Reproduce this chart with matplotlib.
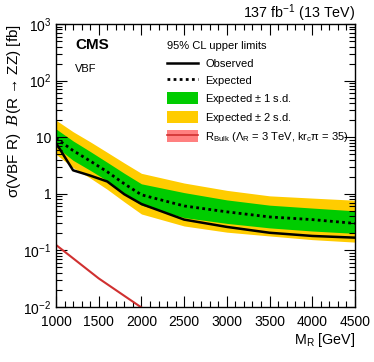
import matplotlib
matplotlib.use("Agg")
import matplotlib.pyplot as plt
from matplotlib.patches import Patch
from matplotlib.lines import Line2D
from matplotlib.ticker import MultipleLocator, LogLocator, NullFormatter

plt.rcParams['font.family'] = ['Liberation Sans', 'DejaVu Sans']
plt.rcParams['mathtext.fontset'] = 'custom'
plt.rcParams['mathtext.rm'] = 'Liberation Sans'
plt.rcParams['mathtext.it'] = 'Liberation Sans:italic'
plt.rcParams['mathtext.cal'] = 'DejaVu Serif:italic'

mass = [1000, 1200, 1400, 1600, 1800, 2000, 2500, 3000, 3500, 4000, 4500]
observed = [7.9, 2.6, 2.1, 1.65, 0.98, 0.66, 0.35, 0.26, 0.205, 0.18, 0.168]
expected = [9.6, 5.8, 3.8, 2.45, 1.5, 0.96, 0.61, 0.48, 0.39, 0.35, 0.30]
band2_hi = [20, 12.5, 8.3, 5.4, 3.5, 2.3, 1.55, 1.15, 0.92, 0.84, 0.77]
band1_hi = [14, 8.6, 5.6, 3.6, 2.3, 1.5, 1.05, 0.78, 0.63, 0.56, 0.50]
band1_lo = [6.8, 3.9, 2.6, 1.7, 1.0, 0.63, 0.38, 0.30, 0.25, 0.22, 0.20]
band2_lo = [5.0, 2.9, 1.9, 1.2, 0.72, 0.44, 0.27, 0.21, 0.18, 0.155, 0.14]

theory_mass = [1000, 1500, 2000, 2500]
theory_xs = [0.125, 0.032, 0.0098, 0.0035]

green = '#00cc00'
yellow = '#ffcc00'
red = '#d03030'

fig = plt.figure(figsize=(3.74, 3.62), dpi=100)
ax = fig.add_axes([56/374, 1-307/362, 299/374, 283/362])

ax.fill_between(mass, band2_lo, band2_hi, color=yellow, lw=0)
ax.fill_between(mass, band1_lo, band1_hi, color=green, lw=0)
ax.plot(mass, expected, color='black', ls=(0, (1, 1.2)), lw=2.0)
ax.plot(mass, observed, color='black', lw=1.8)
ax.plot(theory_mass, theory_xs, color=red, lw=1.5)

ax.set_yscale('log')
ax.set_xlim(1000, 4500)
ax.set_ylim(1e-2, 1e3)
ax.xaxis.set_major_locator(MultipleLocator(500))
ax.xaxis.set_minor_locator(MultipleLocator(100))
ax.yaxis.set_minor_locator(LogLocator(base=10, subs=range(2, 10), numticks=10))
ax.yaxis.set_minor_formatter(NullFormatter())
ax.set_yticks([1e-2, 1e-1, 1, 10, 1e2, 1e3])
ax.set_yticklabels([r'$10^{-2}$', r'$10^{-1}$', '1', '10', r'$10^{2}$', r'$10^{3}$'])
ax.tick_params(which='both', direction='in', top=True, right=True, labelsize=10, width=0.8)
ax.tick_params(which='major', length=8)
ax.tick_params(which='minor', length=4)
ax.tick_params(axis='x', pad=5.5)
ax.tick_params(axis='y', pad=3.5)
for s in ax.spines.values():
    s.set_linewidth(1.0)

ax.set_xlabel(r'M$_{\mathrm{R}}$ [GeV]', fontsize=10.3, loc='right', labelpad=2)
ax.set_ylabel(r'σ(VBF R)  $\mathcal{B}$(R → ZZ) [fb]', fontsize=11, loc='top')
ax.yaxis.set_label_coords(-0.112, 1.0)

fig.text(355/374, 1-13/362, r'137 fb$^{-1}$ (13 TeV)', ha='right', va='center', fontsize=10.3)
ax.text(0.065, 0.926, 'CMS', transform=ax.transAxes, fontsize=11, fontweight='bold', va='center')
ax.text(0.065, 0.841, 'VBF', transform=ax.transAxes, fontsize=8, va='center')

handles = [
    Line2D([], [], color='black', lw=1.8),
    Line2D([], [], color='black', ls=(0, (1, 1.2)), lw=2.0),
    Patch(facecolor=green, edgecolor='none'),
    Patch(facecolor=yellow, edgecolor='none'),
    (Patch(facecolor='#ff8080', edgecolor='none'), Line2D([], [], color=red, lw=1.2)),
]
labels = ['Observed', 'Expected', r'Expected $\pm$ 1 s.d.', r'Expected $\pm$ 2 s.d.',
          r'R$_{\mathrm{Bulk}}$ ($\Lambda_{\mathrm{R}}$ = 3 TeV, kr$_{\mathrm{c}}$π = 35)']
leg = ax.legend(handles, labels, title='95% CL upper limits', loc='upper left',
                bbox_to_anchor=(0.345, 0.968), frameon=False, fontsize=8,
                title_fontsize=8, handlelength=2.8, handleheight=1.25,
                handletextpad=0.65, labelspacing=0.46, borderpad=0.2)
leg._legend_box.align = 'left'
leg._legend_box.sep = 5

fig.savefig('out.png', dpi=100)
